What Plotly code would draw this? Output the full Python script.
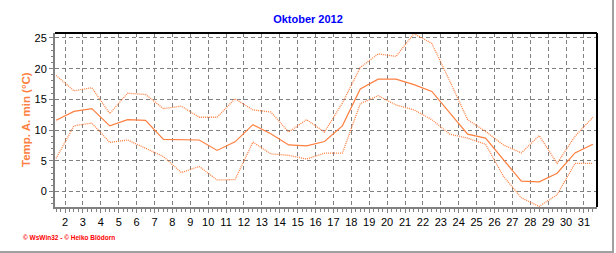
import plotly.graph_objects as go

# ---- data ----
days = list(range(1, 32))
temp_max = [18.9, 16.4, 16.9, 12.7, 16.0, 15.8, 13.5, 13.9, 12.1, 12.1,
            15.1, 13.3, 12.95, 9.7, 11.7, 9.7, 14.4, 20.2, 22.4, 22.0,
            25.7, 24.1, 18.0, 11.7, 9.8, 7.6, 6.3, 9.1, 4.6, 9.0, 12.1]
temp_mean = [11.6, 13.05, 13.5, 10.7, 11.7, 11.6, 8.5, 8.5, 8.4, 6.7,
             8.1, 10.9, 9.4, 7.6, 7.45, 8.15, 10.7, 16.7, 18.3, 18.3,
             17.4, 16.3, 12.8, 9.35, 8.7, 5.2, 1.7, 1.6, 3.0, 6.3, 7.7]
temp_min = [5.4, 10.7, 11.15, 8.0, 8.4, 7.1, 5.7, 3.1, 4.1, 1.9,
            1.95, 8.05, 6.15, 5.9, 5.3, 6.25, 6.25, 14.3, 15.6, 14.1,
            13.3, 11.7, 9.35, 8.7, 7.7, 2.5, -1.0, -2.4, -0.5, 4.6, 4.6]
tick_days = [2, 3, 4, 5, 6, 7, 8, 9, 10, 11, 12, 13, 14, 15, 16, 17, 18,
             19, 20, 21, 22, 23, 24, 25, 26, 27, 28, 29, 30, 31]
y_ticks = [0, 5, 10, 15, 20, 25]

title_text = "Oktober 2012"
y_title = "Temp. A. min (°C)"
credit = "© WsWin32 - © Heiko Blödorn"

ORANGE = "#FF7F3F"
GRID = "#808080"
FONT = "Liberation Sans"

W, H = 616, 253
L, R, T, B = 55, 19, 33, 46
pw, ph = W - L - R, H - T - B


def px_x(px):
    return (px - L) / pw


def px_y(py):
    return (T + ph - py) / ph


xs = [d + 0.5 for d in days]

fig = go.Figure()
fig.add_trace(go.Scatter(x=xs, y=temp_max, mode="lines",
                         line=dict(color=ORANGE, width=1.3, dash="1px,1px")))
fig.add_trace(go.Scatter(x=xs, y=temp_mean, mode="lines",
                         line=dict(color=ORANGE, width=1.2)))
fig.add_trace(go.Scatter(x=xs, y=temp_min, mode="lines",
                         line=dict(color=ORANGE, width=1.3, dash="1px,1px")))

fig.update_layout(
    width=W, height=H,
    margin=dict(l=L, r=R, t=T, b=B),
    paper_bgcolor="white", plot_bgcolor="white",
    showlegend=False,
    title=dict(text=title_text, x=0.5, xref="container", xanchor="center",
               y=1 - 19.5 / H, yref="container", yanchor="middle",
               font=dict(family=FONT, size=11, color="#0000FF", weight="bold")),
    xaxis=dict(range=[1.44, 31.73], tickmode="array", tickvals=tick_days,
               ticktext=[str(t) for t in tick_days],
               showgrid=True, gridcolor=GRID, gridwidth=1, griddash="4px,3px",
               showline=True, linecolor=GRID, linewidth=2,
               ticks="outside", ticklen=4, tickcolor=GRID, tickwidth=1,
               minor=dict(tickmode="linear", tick0=0, dtick=0.25, ticks="outside",
                          ticklen=3, tickcolor=GRID, showgrid=False),
               zeroline=False,
               tickfont=dict(family=FONT, size=11, color="black")),
    yaxis=dict(range=[-2.5, 25.8], tickmode="array", tickvals=y_ticks,
               showgrid=True, gridcolor=GRID, gridwidth=1, griddash="4px,3px",
               showline=True, linecolor=GRID, linewidth=2,
               ticks="outside", ticklen=4, tickcolor=GRID, tickwidth=1,
               minor=dict(tickmode="linear", tick0=0, dtick=1, ticks="outside",
                          ticklen=2, tickcolor=GRID, showgrid=False),
               zeroline=False,
               tickfont=dict(family=FONT, size=11, color="black")),
    shapes=[
        dict(type="line", xref="paper", yref="paper", x0=0, x1=1, y0=1, y1=1,
             line=dict(color="black", width=2)),
        dict(type="line", xref="paper", yref="paper", x0=1, x1=1, y0=0, y1=1,
             line=dict(color="black", width=2)),
        # outer gray frame (right and bottom)
        dict(type="line", xref="paper", yref="paper",
             x0=px_x(613), x1=px_x(613), y0=px_y(0), y1=px_y(253),
             line=dict(color="#A0A0A0", width=2)),
        dict(type="line", xref="paper", yref="paper",
             x0=px_x(0), x1=px_x(614), y0=px_y(252), y1=px_y(252),
             line=dict(color="#A0A0A0", width=2)),
    ],
    annotations=[
        dict(text=y_title, xref="paper", yref="paper", x=0, y=0.5,
             xshift=-29, xanchor="center", yanchor="middle", textangle=-90,
             showarrow=False,
             font=dict(family=FONT, size=11.5, color="#FF8040", weight="bold")),
        dict(text=credit, xref="paper", yref="paper",
             x=px_x(21), y=px_y(237.5), xanchor="left", yanchor="middle",
             showarrow=False,
             font=dict(family=FONT, size=6.5, color="#FF0000", weight="bold")),
    ],
)

fig.write_html("out.html")
